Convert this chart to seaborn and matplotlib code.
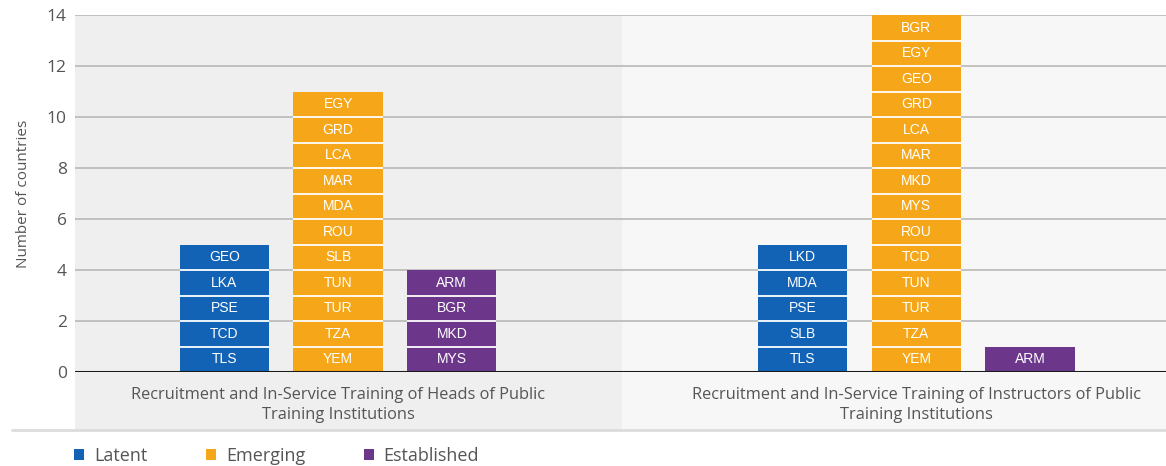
import matplotlib
matplotlib.use("Agg")
import matplotlib.pyplot as plt
from matplotlib.patches import Patch
from matplotlib.lines import Line2D
import pandas as pd
import seaborn as sns

# Country codes per level, listed from the bottom of each stack upward
categories = [
    "Recruitment and In-Service Training of Heads of Public\nTraining Institutions",
    "Recruitment and In-Service Training of Instructors of Public\nTraining Institutions",
]
levels = ["Latent", "Emerging", "Established"]

heads_latent = ["TLS", "TCD", "PSE", "LKA", "GEO"]
heads_emerging = ["YEM", "TZA", "TUR", "TUN", "SLB", "ROU", "MDA", "MAR", "LCA", "GRD", "EGY"]
heads_established = ["MYS", "MKD", "BGR", "ARM"]

instr_latent = ["TLS", "SLB", "PSE", "MDA", "LKD"]
instr_emerging = ["YEM", "TZA", "TUR", "TUN", "TCD", "ROU", "MYS", "MKD", "MAR", "LCA",
                  "GRD", "GEO", "EGY", "BGR"]
instr_established = ["ARM"]

yticks = [0, 2, 4, 6, 8, 10, 12, 14]
palette = {"Latent": "#1262b6", "Emerging": "#f6a719", "Established": "#6c378b"}

countries = {
    (categories[0], "Latent"): heads_latent,
    (categories[0], "Emerging"): heads_emerging,
    (categories[0], "Established"): heads_established,
    (categories[1], "Latent"): instr_latent,
    (categories[1], "Emerging"): instr_emerging,
    (categories[1], "Established"): instr_established,
}
df = pd.DataFrame(
    [{"category": c, "level": l, "count": len(v)} for (c, l), v in countries.items()]
)

sns.set_theme(style="white")
plt.rcParams["font.family"] = ["Open Sans", "DejaVu Sans"]

fig = plt.figure(figsize=(11.66, 4.66), dpi=100)
ax = fig.add_axes([75 / 1166, 1 - 372 / 466, 1 - 75 / 1166, (372 - 15) / 466])
ax.set_facecolor("none")

xlim = (-0.455, 1.432)
split = 0.491
band_bottom = -(430 - 372) / 357
ax.axvspan(xlim[0], split, ymin=band_bottom, ymax=1, color="#efefef", lw=0,
           clip_on=False, zorder=0)
ax.axvspan(split, xlim[1], ymin=band_bottom, ymax=1, color="#f7f7f7", lw=0,
           clip_on=False, zorder=0)

for t in yticks:
    ax.axhline(t, color="#b3b3b3", lw=1.1, zorder=1)

sns.barplot(data=df, x="category", y="count", hue="level", order=categories,
            hue_order=levels, palette=palette, width=0.59, gap=0.215,
            saturation=1, linewidth=0, ax=ax, legend=False, zorder=2)

# Split each bar into one box per country and label it
for level, container in zip(levels, ax.containers):
    for ci, p in enumerate(container.patches):
        x0, w = p.get_x(), p.get_width()
        cx = x0 + w / 2
        codes = countries[(categories[ci], level)]
        for k in range(1, len(codes)):
            ax.plot([x0, x0 + w], [k, k], color="white", lw=1.3, zorder=3,
                    solid_capstyle="butt")
        for k, code in enumerate(codes):
            ax.text(cx, k + 0.5, code, ha="center", va="center", color="white",
                    fontsize=10, family=["Liberation Sans", "DejaVu Sans"], zorder=4)

ax.axhline(0, color="#1a1a1a", lw=2.2, zorder=5)

ax.set_xlim(*xlim)
ax.set_ylim(0, 14)
ax.set_yticks(yticks)
ax.set_xlabel("")
ax.set_ylabel("Number of countries", fontsize=11, color="#555555", labelpad=11)
ax.tick_params(axis="y", length=0, pad=6, labelsize=12.5, labelcolor="#555555")
ax.tick_params(axis="x", length=0, pad=11, labelsize=11.8, labelcolor="#555555")
for lab in ax.get_xticklabels():
    lab.set_linespacing(1.35)
for s in ax.spines.values():
    s.set_visible(False)

fig.add_artist(Line2D([12 / 1166, 1], [1 - 430 / 466] * 2, color="#dcdcdc", lw=2,
                      transform=fig.transFigure))

handles = [Patch(facecolor=palette[l], edgecolor="none", label=l) for l in levels]
fig.legend(handles=handles, loc="center left", bbox_to_anchor=(58 / 1166, 1 - 456 / 466),
           ncol=3, frameon=False, fontsize=13, handlelength=0.55, handleheight=0.55,
           handletextpad=0.55, columnspacing=3.25, labelcolor="#555555")

fig.savefig("out.png", dpi=100)
